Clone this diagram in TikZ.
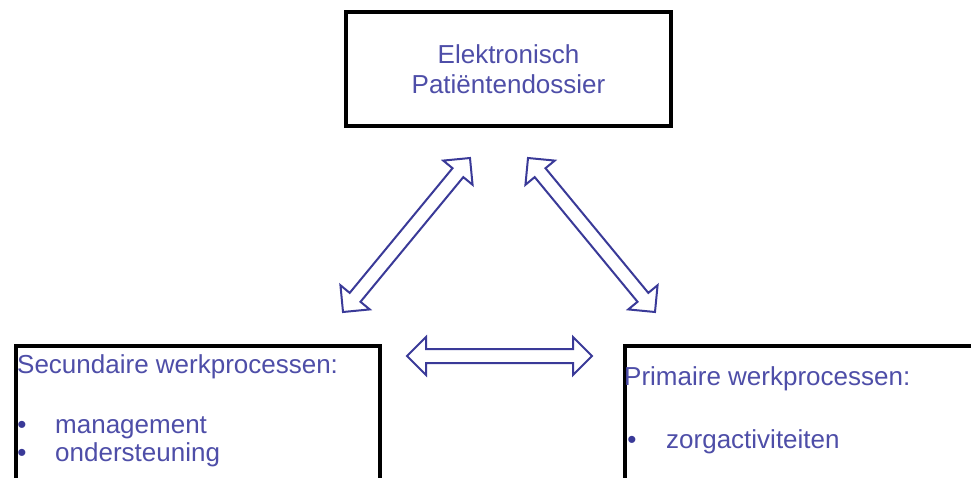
\documentclass[tikz,border=0pt]{standalone}
\usepackage{fontspec}
\setmainfont{Liberation Sans}
\usetikzlibrary{calc,shapes.arrows}

\definecolor{txtblue}{RGB}{78,78,168}
\definecolor{arrblue}{RGB}{58,58,152}

% Hollow double-headed block arrow between two named coordinates
\newcommand\linkarrow[3]{%
  \path let \p1=($(#3)-(#2)$), \n1={atan2(\y1,\x1)}, \n2={veclen(\x1,\y1)} in
    node[linkarrow, rotate=\n1, minimum height=\n2] (#1) at ($(#2)!0.5!(#3)$) {};}

\begin{document}
\begin{tikzpicture}[x=1pt,y=-1pt,
  box/.style={draw=black, line width=4pt, fill=white},
  lbl/.style={text=txtblue, font=\fontsize{26}{30}\selectfont, inner sep=0pt},
  dot/.style={text=arrblue, font=\fontsize{26}{30}\selectfont, inner sep=0pt},
  linkarrow/.style={double arrow, draw=arrblue, line width=2pt, fill=white,
    inner sep=0pt, inner ysep=6pt, minimum width=36pt,
    double arrow head extend=12pt, double arrow tip angle=90}]
  \useasboundingbox (0,0) rectangle (971,477);

  % boxes
  \node[box, minimum width=325pt, minimum height=114pt, align=center, text=txtblue,
        font=\fontsize{26}{30}\selectfont, inner sep=0pt] (epd) at (508.5,69)
        {Elektronisch\\Patiëntendossier};
  \node[box, anchor=north west, minimum width=364.5pt, minimum height=134.5pt, inner sep=0pt]
        (sec) at (13.5,343.5) {};
  \node[box, anchor=north west, minimum width=360pt, minimum height=134.5pt, inner sep=0pt]
        (prim) at (622.5,343.5) {};

  % texts of the lower boxes
  \node[lbl, anchor=base west] (sech) at (17,373) {Secundaire werkprocessen:};
  \node[dot, anchor=base] (b1) at (22,433) {•};
  \node[lbl, anchor=base west] (s1) at (55,433) {management};
  \node[dot, anchor=base] (b2) at (22,461) {•};
  \node[lbl, anchor=base west] (s2) at (55,461) {ondersteuning};

  \node[lbl, anchor=base west] (primh) at (624,385) {Primaire werkprocessen:};
  \node[dot, anchor=base] (b3) at (632,448) {•};
  \node[lbl, anchor=base west] (p1) at (666,448) {zorgactiviteiten};

  % arrow end points
  \coordinate (la) at (470,158);
  \coordinate (lb) at (343,312);
  \coordinate (ra) at (528,158);
  \coordinate (rb) at (655,312);
  \coordinate (ha) at (407,356);
  \coordinate (hb) at (592,356);

  \linkarrow{left}{lb}{la}
  \linkarrow{right}{ra}{rb}
  \linkarrow{mid}{ha}{hb}
\end{tikzpicture}
\end{document}
